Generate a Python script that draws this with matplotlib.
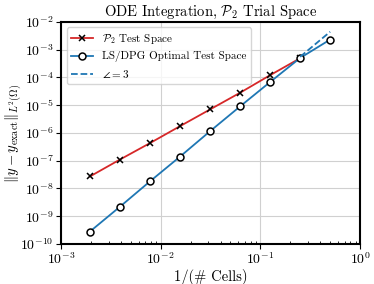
import matplotlib
matplotlib.use("Agg")
import matplotlib.pyplot as plt
from matplotlib.ticker import LogLocator

plt.rcParams["font.family"] = "serif"
plt.rcParams["font.serif"] = ["cmr10", "DejaVu Serif"]
plt.rcParams["mathtext.fontset"] = "cm"
plt.rcParams["axes.formatter.use_mathtext"] = True
plt.rcParams["axes.unicode_minus"] = False

# 1/(# cells)
h = [1/512, 1/256, 1/128, 1/64, 1/32, 1/16, 1/8, 1/4, 1/2]

# P2 test space errors (first 8 mesh sizes)
h_p2 = h[:8]
err_p2 = [2.7e-8, 1.1e-7, 4.3e-7, 1.75e-6, 7.0e-6, 2.8e-5, 1.2e-4, 4.9e-4]

# LS/DPG optimal test space errors
err_opt = [2.8e-10, 2.2e-9, 1.8e-8, 1.4e-7, 1.15e-6, 9.0e-6, 6.8e-5, 5.0e-4, 2.3e-3]

# slope-3 reference line
slope_x = [0.25, 0.5]
slope_y = [5.5e-4, 4.4e-3]

fig = plt.figure(figsize=(3.74, 2.84), dpi=100)
ax = fig.add_axes([0.163, 0.141, 0.8, 0.782])

ax.loglog(h_p2, err_p2, color="#d62728", lw=1.3, marker="x", ms=5,
          mec="black", mew=1.1, label=r"$\mathcal{P}_2$ Test Space")
ax.loglog(h, err_opt, color="#1f77b4", lw=1.3, marker="o", ms=5,
          mfc="white", mec="black", mew=1.1, label="LS/DPG Optimal Test Space")
ax.loglog(slope_x, slope_y, color="#1f77b4", lw=1.3, ls="--", label=r"$\angle = 3$")

ax.set_xlim(1e-3, 1e0)
ax.set_ylim(1e-10, 1e-2)
ax.yaxis.set_major_locator(LogLocator(base=10, numticks=20))
ax.yaxis.set_minor_locator(plt.NullLocator())
ax.grid(True, which="major", color="#d0d0d0", lw=0.8)
ax.set_axisbelow(True)
for s in ax.spines.values():
    s.set_linewidth(1.5)
ax.tick_params(labelsize=10, pad=2)
ax.tick_params(which="minor", direction="in")

ax.set_title(r"ODE Integration, $\mathcal{P}_2$ Trial Space", fontsize=10.5, pad=4)
ax.set_xlabel(r"1/(# Cells)", fontsize=10.5, labelpad=1)
ax.set_ylabel(r"$\|y - y_{\mathrm{exact}}\|_{L^2(\Omega)}$", fontsize=10.5)
ax.yaxis.set_label_coords(-0.125, 0.5)
ax.legend(loc="upper left", fontsize=8, framealpha=0.8)

fig.savefig("out.png", dpi=100)
